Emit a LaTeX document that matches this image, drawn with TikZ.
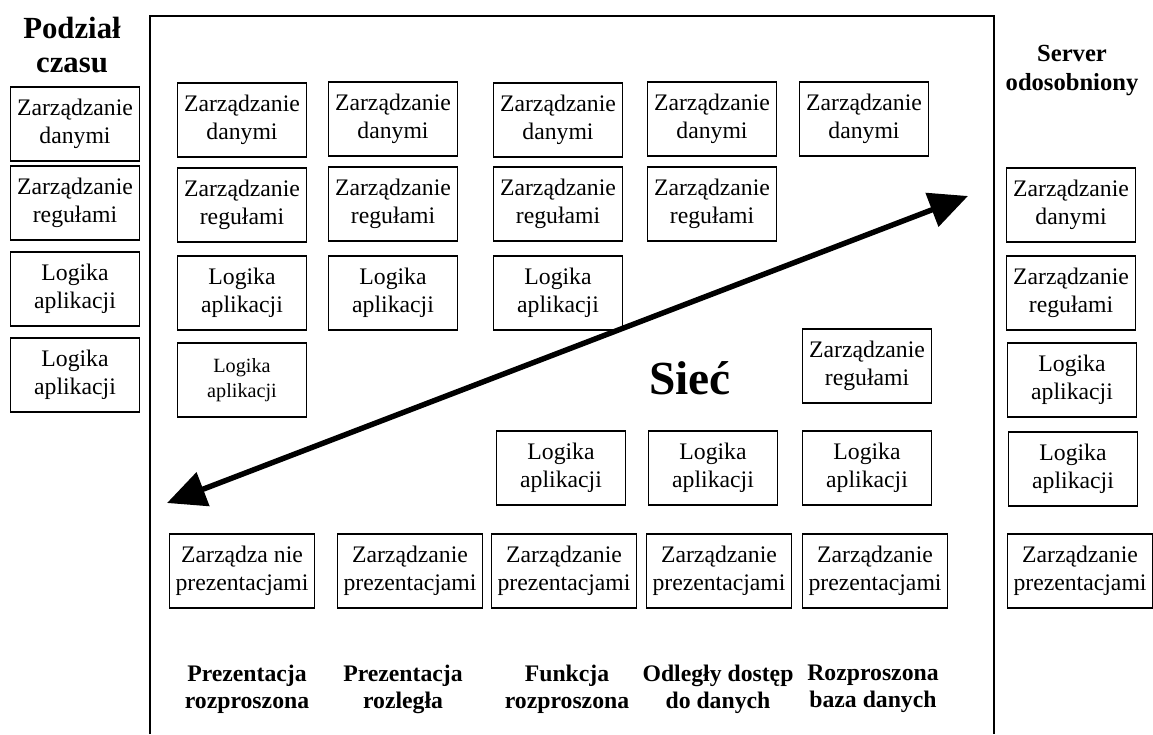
\documentclass[tikz,border=0pt]{standalone}
\usepackage{fontspec}
\setmainfont{Liberation Serif}
\usetikzlibrary{arrows.meta}

\begin{document}
\begin{tikzpicture}[x=0.02cm,y=-0.02cm]
	\tikzstyle{box}=[draw=black,line width=0.8pt,align=center,minimum width=2.58cm,minimum height=1.48cm,inner sep=1pt,font=\fontsize{13.5}{16}\selectfont]
	\tikzstyle{pbox}=[box,minimum width=2.9cm]
	\tikzstyle{head}=[align=center,font=\fontsize{13.5}{15.5}\selectfont\bfseries]
	\useasboundingbox (0,0) rectangle (1153,734);
	% ramka sieci
	\draw[line width=0.8pt] (150,734) -- (150,16) -- (994,16) -- (994,734);
	% podzial czasu
	\node[head,font=\fontsize{17.5}{19.5}\selectfont\bfseries](hl) at (72,45) {Podział\\czasu};
	\node[box](l1) at (75,124) {Zarządzanie\\danymi};
	\node[box](l2) at (75,203) {Zarządzanie\\regułami};
	\node[box](l3) at (75,289) {Logika\\aplikacji};
	\node[box](l4) at (75,375) {Logika\\aplikacji};
	% kolumna 1
	\node[box](c11) at (242,120) {Zarządzanie\\danymi};
	\node[box](c12) at (242,205) {Zarządzanie\\regułami};
	\node[box](c13) at (242,293) {Logika\\aplikacji};
	\node[box,font=\fontsize{11.5}{14}\selectfont](c14) at (242,380) {Logika\\aplikacji};
	\node[pbox](c15) at (242,571) {Zarządza nie\\prezentacjami};
	% kolumna 2
	\node[box](c21) at (393,119) {Zarządzanie\\danymi};
	\node[box](c22) at (393,204) {Zarządzanie\\regułami};
	\node[box](c23) at (393,293) {Logika\\aplikacji};
	\node[pbox](c25) at (410,571) {Zarządzanie\\prezentacjami};
	% kolumna 3
	\node[box](c31) at (558,120) {Zarządzanie\\danymi};
	\node[box](c32) at (558,204) {Zarządzanie\\regułami};
	\node[box](c33) at (558,293) {Logika\\aplikacji};
	\node[box](c34) at (561,468) {Logika\\aplikacji};
	\node[pbox](c35) at (564,571) {Zarządzanie\\prezentacjami};
	% kolumna 4
	\node[box](c41) at (712,119) {Zarządzanie\\danymi};
	\node[box](c42) at (712,204) {Zarządzanie\\regułami};
	\node[box](c44) at (713,468) {Logika\\aplikacji};
	\node[pbox](c45) at (719,571) {Zarządzanie\\prezentacjami};
	% kolumna 5
	\node[box](c51) at (864,119) {Zarządzanie\\danymi};
	\node[box](c52) at (867,366) {Zarządzanie\\regułami};
	\node[box](c54) at (867,468) {Logika\\aplikacji};
	\node[pbox](c55) at (875,571) {Zarządzanie\\prezentacjami};
	% server odosobniony
	\node[head,font=\fontsize{14}{16.5}\selectfont\bfseries](hr) at (1072,71) {Server\\odosobniony};
	\node[box](r1) at (1071,205) {Zarządzanie\\danymi};
	\node[box](r2) at (1071,293) {Zarządzanie\\regułami};
	\node[box](r3) at (1072,380) {Logika\\aplikacji};
	\node[box](r4) at (1073,469) {Logika\\aplikacji};
	\node[pbox](r5) at (1080,571) {Zarządzanie\\prezentacjami};
	% siec
	\node[font=\fontsize{27}{30}\selectfont\bfseries](siec) at (690,378) {Sieć};
	\coordinate (a1) at (167,503);
	\coordinate (a2) at (968,196);
	\draw[line width=3.1pt,{Triangle[length=22pt,width=20pt]}-{Triangle[length=22pt,width=20pt]}] (a1) -- (a2);
	% podpisy kolumn
	\node[head](t1) at (247,689) {Prezentacja\\rozproszona};
	\node[head](t2) at (403,689) {Prezentacja\\rozległa};
	\node[head](t3) at (567,689) {Funkcja\\rozproszona};
	\node[head](t4) at (718,689) {Odległy dostęp\\do danych};
	\node[head](t5) at (873,689) {Rozproszona\\baza danych};
\end{tikzpicture}
\end{document}
